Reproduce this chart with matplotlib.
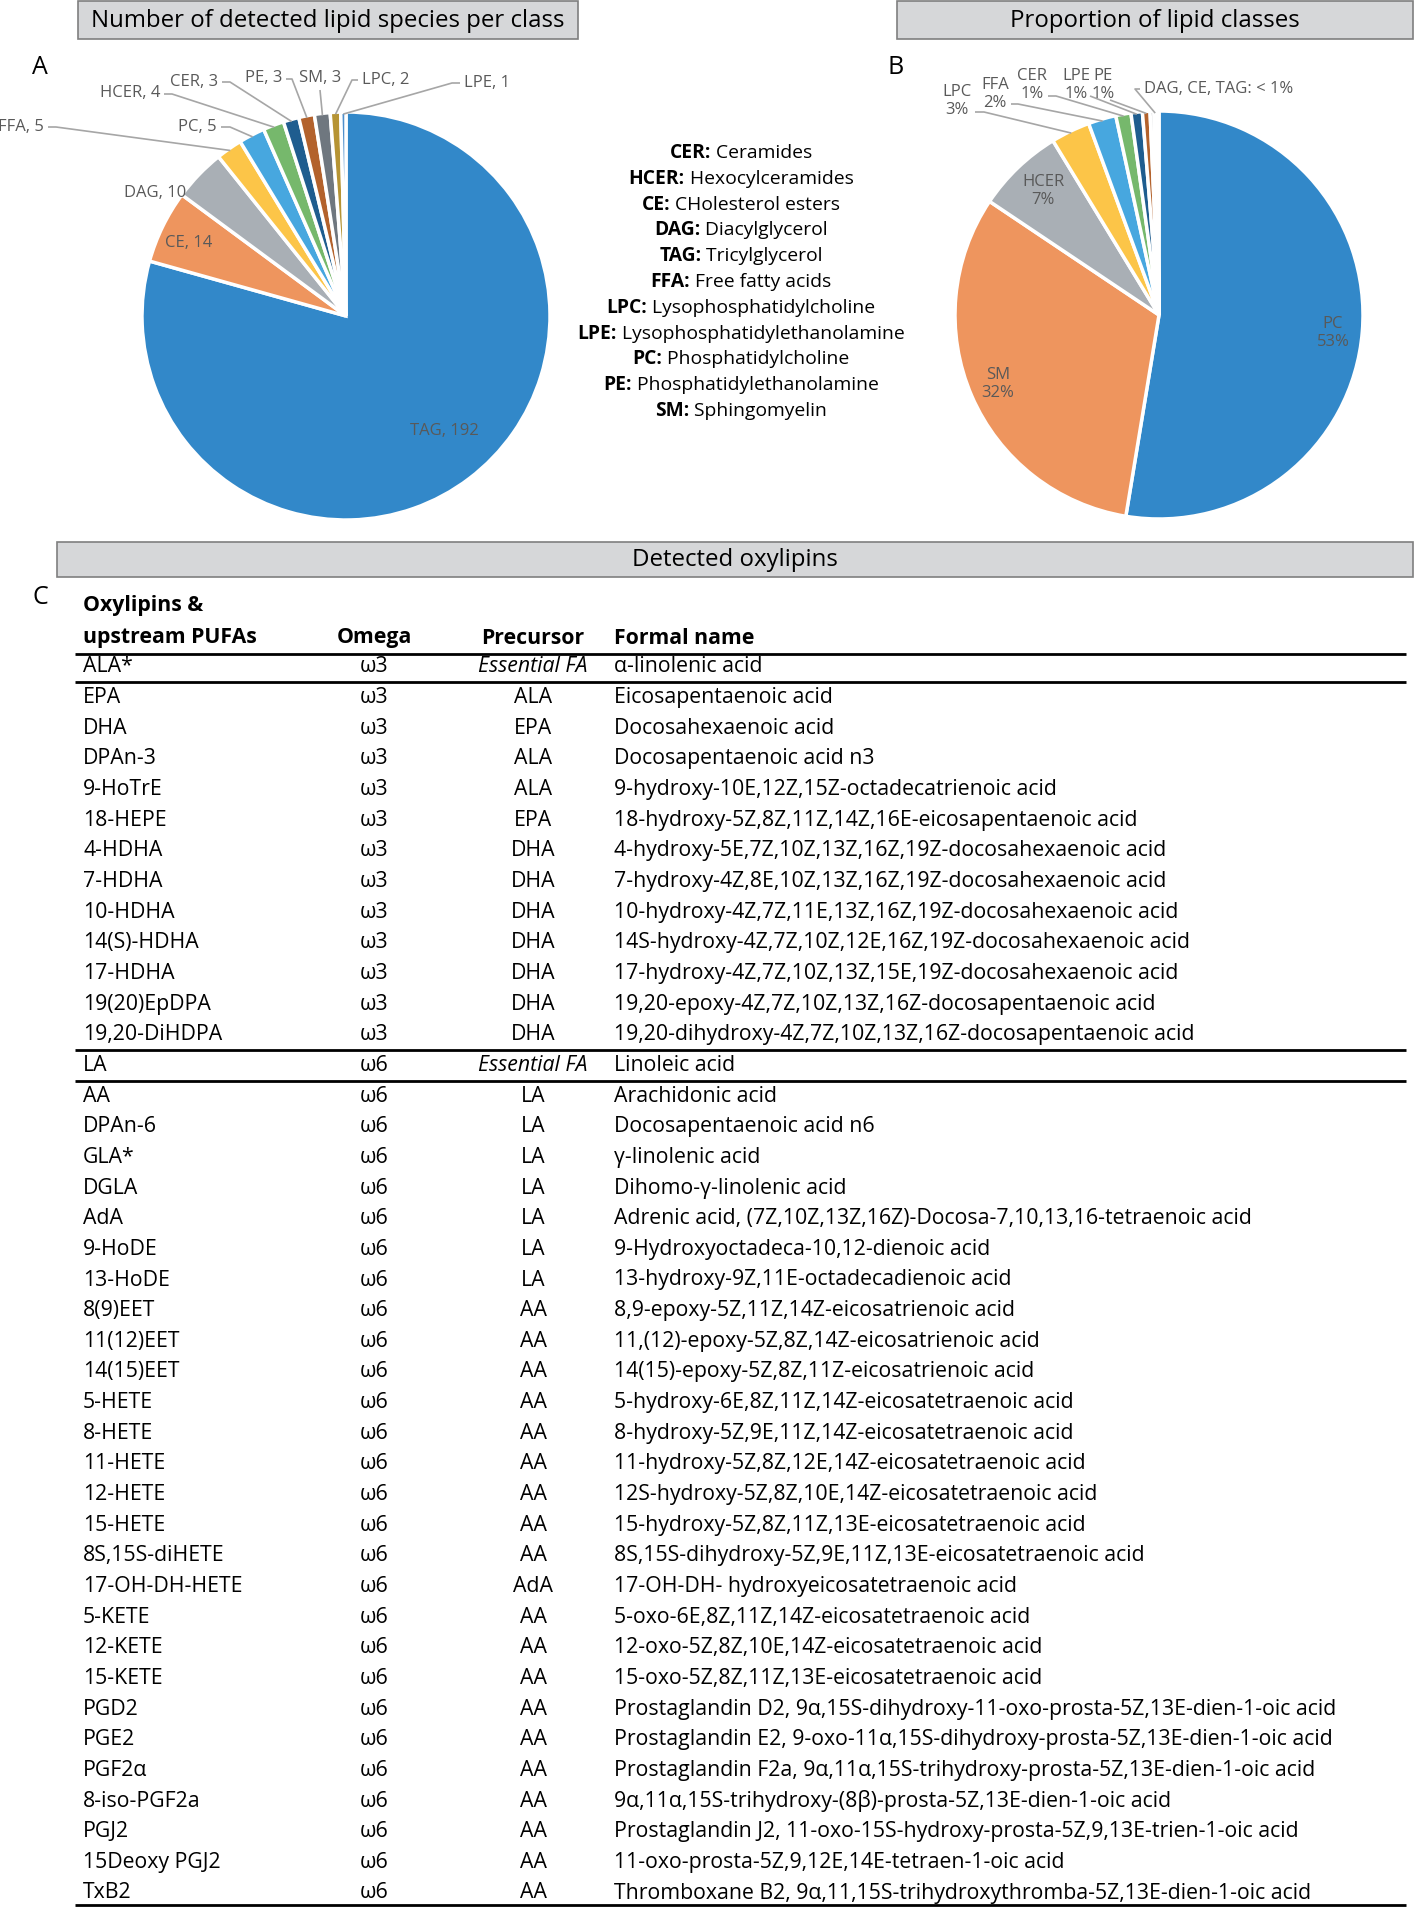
import numpy as np
import matplotlib
matplotlib.use('Agg')
import matplotlib.pyplot as plt
from matplotlib.patches import Rectangle

plt.rcParams['font.family'] = ['Open Sans', 'DejaVu Sans']

W, H = 1417, 1909

# ---------------- data ----------------
a_classes = ['TAG', 'CE', 'DAG', 'FFA', 'PC', 'HCER', 'CER', 'PE', 'SM', 'LPC', 'LPE']
a_counts = [192, 14, 10, 5, 5, 4, 3, 3, 3, 2, 1]

b_classes = ['PC', 'SM', 'HCER', 'LPC', 'FFA', 'CER', 'LPE', 'PE', 'DAG', 'CE', 'TAG']
b_percent = [52.6, 31.8, 6.9, 3.1, 2.2, 1.2, 0.9, 0.6, 0.3, 0.2, 0.2]

legend_abbr = ['CER', 'HCER', 'CE', 'DAG', 'TAG', 'FFA', 'LPC', 'LPE', 'PC', 'PE', 'SM']
legend_desc = ['Ceramides', 'Hexocylceramides', 'CHolesterol esters', 'Diacylglycerol',
               'Tricylglycerol', 'Free fatty acids', 'Lysophosphatidylcholine',
               'Lysophosphatidylethanolamine', 'Phosphatidylcholine',
               'Phosphatidylethanolamine', 'Sphingomyelin']

ox_names = ['ALA*', 'EPA', 'DHA', 'DPAn-3', '9-HoTrE', '18-HEPE', '4-HDHA', '7-HDHA',
            '10-HDHA', '14(S)-HDHA', '17-HDHA', '19(20)EpDPA', '19,20-DiHDPA',
            'LA', 'AA', 'DPAn-6', 'GLA*', 'DGLA', 'AdA', '9-HoDE', '13-HoDE',
            '8(9)EET', '11(12)EET', '14(15)EET', '5-HETE', '8-HETE', '11-HETE',
            '12-HETE', '15-HETE', '8S,15S-diHETE', '17-OH-DH-HETE', '5-KETE',
            '12-KETE', '15-KETE', 'PGD2', 'PGE2', 'PGF2α', '8-iso-PGF2a', 'PGJ2',
            '15Deoxy PGJ2', 'TxB2']
ox_omega = ['ω3'] * 13 + ['ω6'] * 28
ox_precursor = ['Essential FA', 'ALA', 'EPA', 'ALA', 'ALA', 'EPA', 'DHA', 'DHA', 'DHA',
                'DHA', 'DHA', 'DHA', 'DHA',
                'Essential FA', 'LA', 'LA', 'LA', 'LA', 'LA', 'LA', 'LA',
                'AA', 'AA', 'AA', 'AA', 'AA', 'AA', 'AA', 'AA', 'AA', 'AdA', 'AA',
                'AA', 'AA', 'AA', 'AA', 'AA', 'AA', 'AA', 'AA', 'AA']
ox_formal = [
    'α-linolenic acid',
    'Eicosapentaenoic acid',
    'Docosahexaenoic acid',
    'Docosapentaenoic acid n3',
    '9-hydroxy-10E,12Z,15Z-octadecatrienoic acid',
    '18-hydroxy-5Z,8Z,11Z,14Z,16E-eicosapentaenoic acid',
    '4-hydroxy-5E,7Z,10Z,13Z,16Z,19Z-docosahexaenoic acid',
    '7-hydroxy-4Z,8E,10Z,13Z,16Z,19Z-docosahexaenoic acid',
    '10-hydroxy-4Z,7Z,11E,13Z,16Z,19Z-docosahexaenoic acid',
    '14S-hydroxy-4Z,7Z,10Z,12E,16Z,19Z-docosahexaenoic acid',
    '17-hydroxy-4Z,7Z,10Z,13Z,15E,19Z-docosahexaenoic acid',
    '19,20-epoxy-4Z,7Z,10Z,13Z,16Z-docosapentaenoic acid',
    '19,20-dihydroxy-4Z,7Z,10Z,13Z,16Z-docosapentaenoic acid',
    'Linoleic acid',
    'Arachidonic acid',
    'Docosapentaenoic acid n6',
    'γ-linolenic acid',
    'Dihomo-γ-linolenic acid',
    'Adrenic acid, (7Z,10Z,13Z,16Z)-Docosa-7,10,13,16-tetraenoic acid',
    '9-Hydroxyoctadeca-10,12-dienoic acid',
    '13-hydroxy-9Z,11E-octadecadienoic acid',
    '8,9-epoxy-5Z,11Z,14Z-eicosatrienoic acid',
    '11,(12)-epoxy-5Z,8Z,14Z-eicosatrienoic acid',
    '14(15)-epoxy-5Z,8Z,11Z-eicosatrienoic acid',
    '5-hydroxy-6E,8Z,11Z,14Z-eicosatetraenoic acid',
    '8-hydroxy-5Z,9E,11Z,14Z-eicosatetraenoic acid',
    '11-hydroxy-5Z,8Z,12E,14Z-eicosatetraenoic acid',
    '12S-hydroxy-5Z,8Z,10E,14Z-eicosatetraenoic acid',
    '15-hydroxy-5Z,8Z,11Z,13E-eicosatetraenoic acid',
    '8S,15S-dihydroxy-5Z,9E,11Z,13E-eicosatetraenoic acid',
    '17-OH-DH- hydroxyeicosatetraenoic acid',
    '5-oxo-6E,8Z,11Z,14Z-eicosatetraenoic acid',
    '12-oxo-5Z,8Z,10E,14Z-eicosatetraenoic acid',
    '15-oxo-5Z,8Z,11Z,13E-eicosatetraenoic acid',
    'Prostaglandin D2, 9α,15S-dihydroxy-11-oxo-prosta-5Z,13E-dien-1-oic acid',
    'Prostaglandin E2, 9-oxo-11α,15S-dihydroxy-prosta-5Z,13E-dien-1-oic acid',
    'Prostaglandin F2a, 9α,11α,15S-trihydroxy-prosta-5Z,13E-dien-1-oic acid',
    '9α,11α,15S-trihydroxy-(8β)-prosta-5Z,13E-dien-1-oic acid',
    'Prostaglandin J2, 11-oxo-15S-hydroxy-prosta-5Z,9,13E-trien-1-oic acid',
    '11-oxo-prosta-5Z,9,12E,14E-tetraen-1-oic acid',
    'Thromboxane B2, 9α,11,15S-trihydroxythromba-5Z,13E-dien-1-oic acid',
]

# ---------------- style ----------------
palette = ['#3288C9', '#EE955E', '#A9AFB5', '#FCC548', '#47A7DF', '#76B86C',
           '#1F5D8F', '#B3622C', '#6F777F', '#B69434', '#4F8FCB']
lbl_col = '#595959'
lead_col = '#A6A6A6'
box_face = '#D6D7D9'
box_edge = '#7F7F7F'

fig = plt.figure(figsize=(W / 100, H / 100), dpi=100)
ax = fig.add_axes([0, 0, 1, 1])


def title_box(x0, x1, y0, y1, text, size=17.3):
    ax.add_patch(Rectangle((x0, y0), x1 - x0, y1 - y0, facecolor=box_face,
                           edgecolor=box_edge, lw=1.2, zorder=1))
    ax.text((x0 + x1) / 2, (y0 + y1) / 2 + 1, text, ha='center', va='center',
            fontsize=size, color='black', zorder=2)


title_box(78, 578, 1, 39, 'Number of detected lipid species per class')
title_box(897, 1413, 1, 39, 'Proportion of lipid classes')
title_box(57, 1413, 542, 577, 'Detected oxylipins')

ax.text(40, 67, 'A', fontsize=18, ha='center', va='center')
ax.text(896, 67, 'B', fontsize=18, ha='center', va='center')
ax.text(40, 597, 'C', fontsize=18, ha='center', va='center')

# ---------------- pies ----------------
ca, ra = (346, 316), 204
cb, rb = (1159, 315), 204

wa, _ = ax.pie(a_counts, colors=palette, center=ca, radius=ra, startangle=-90,
               counterclock=True, wedgeprops=dict(edgecolor='white', linewidth=2.5))
wb, _ = ax.pie(b_percent, colors=palette, center=cb, radius=rb, startangle=-90,
               counterclock=True, wedgeprops=dict(edgecolor='white', linewidth=2.5))


def edge_pt(w, c, r, f=1.0):
    t = np.deg2rad((w.theta1 + w.theta2) / 2)
    return c[0] + f * r * np.cos(t), c[1] + f * r * np.sin(t)


def leader(w, c, r, pts):
    ex, ey = edge_pt(w, c, r, 0.99)
    xs = [p[0] for p in pts] + [ex]
    ys = [p[1] for p in pts] + [ey]
    ax.plot(xs, ys, color=lead_col, lw=1.2, zorder=3, solid_capstyle='butt')


fs_lab = 12
# Pie A labels
a_idx = {n: i for i, n in enumerate(a_classes)}


def a_text(name, x, y, ha):
    ax.text(x, y, f'{name}, {a_counts[a_idx[name]]}', ha=ha, va='center',
            fontsize=fs_lab, color=lbl_col, zorder=4)


a_text('TAG', 444, 431, 'center')
a_text('CE', 189, 243, 'center')
a_text('DAG', 155, 193, 'center')
a_text('FFA', 44, 127, 'right')
leader(wa[a_idx['FFA']], ca, ra, [(48, 127), (56, 127)])
a_text('PC', 217, 127, 'right')
leader(wa[a_idx['PC']], ca, ra, [(221, 127), (230, 127)])
a_text('HCER', 160, 93, 'right')
leader(wa[a_idx['HCER']], ca, ra, [(164, 94), (172, 94)])
a_text('CER', 218, 82, 'right')
leader(wa[a_idx['CER']], ca, ra, [(222, 82), (230, 82)])
a_text('PE', 282, 78, 'right')
leader(wa[a_idx['PE']], ca, ra, [(286, 79), (292, 79)])
a_text('SM', 320, 78, 'center')
leader(wa[a_idx['SM']], ca, ra, [(320, 90)])
a_text('LPC', 362, 80, 'left')
leader(wa[a_idx['LPC']], ca, ra, [(358, 80), (352, 80)])
a_text('LPE', 464, 83, 'left')
leader(wa[a_idx['LPE']], ca, ra, [(460, 83), (452, 83)])

# Pie B labels
b_idx = {n: i for i, n in enumerate(b_classes)}


def b_text(name, x, y):
    ax.text(x, y, f'{name}\n{b_percent[b_idx[name]]:.0f}%', ha='center', va='center',
            fontsize=fs_lab, color=lbl_col, linespacing=1.15, zorder=4)


b_text('PC', 1333, 333)
b_text('SM', 998, 384)
b_text('HCER', 1043, 191)
b_text('LPC', 957, 101)
leader(wb[b_idx['LPC']], cb, rb, [(975, 112), (984, 112)])
b_text('FFA', 995, 94)
leader(wb[b_idx['FFA']], cb, rb, [(1011, 104), (1018, 104)])
b_text('CER', 1032, 85)
leader(wb[b_idx['CER']], cb, rb, [(1048, 96), (1056, 96)])
b_text('LPE', 1076, 85)
leader(wb[b_idx['LPE']], cb, rb, [(1090, 96)])
b_text('PE', 1103, 85)
leader(wb[b_idx['PE']], cb, rb, [(1110, 100)])
small = b_classes[8:]
ax.text(1144, 89, ', '.join(small) + ': < 1%', ha='left', va='center',
        fontsize=fs_lab, color=lbl_col, zorder=4)
leader(wb[b_idx['CE']], cb, rb, [(1140, 89), (1135, 89)])

# ---------------- legend (middle) ----------------
fig.canvas.draw()
renderer = fig.canvas.get_renderer()
leg_cx, leg_y0, leg_dy = 741, 153, 25.8
fs_leg = 13.9
for i, (ab, de) in enumerate(zip(legend_abbr, legend_desc)):
    y = leg_y0 + i * leg_dy
    t1 = ax.text(0, y, ab + ':', fontsize=fs_leg, fontweight='bold', ha='left', va='center')
    t2 = ax.text(0, y, ' ' + de, fontsize=fs_leg, ha='left', va='center')
    w1 = t1.get_window_extent(renderer).width
    w2 = t2.get_window_extent(renderer).width
    x0 = leg_cx - (w1 + w2) / 2
    t1.set_x(x0)
    t2.set_x(x0 + w1)

# ---------------- table ----------------
fs_tab = 15.3
x_name, x_omega, x_prec, x_form = 83, 374, 533, 614
ax.text(x_name, 606, 'Oxylipins &', fontsize=fs_tab, fontweight='bold', va='center')
ax.text(x_name, 638, 'upstream PUFAs', fontsize=fs_tab, fontweight='bold', va='center')
ax.text(x_omega, 638, 'Omega', fontsize=fs_tab, fontweight='bold', va='center', ha='center')
ax.text(x_prec, 638, 'Precursor', fontsize=fs_tab, fontweight='bold', va='center', ha='center')
ax.text(x_form, 638, 'Formal name', fontsize=fs_tab, fontweight='bold', va='center')

row0, dy = 667, 30.65
for i in range(len(ox_names)):
    y = row0 + i * dy
    ax.text(x_name, y, ox_names[i], fontsize=fs_tab, va='center')
    ax.text(x_omega, y, ox_omega[i], fontsize=fs_tab, va='center', ha='center')
    style = 'italic' if ox_precursor[i] == 'Essential FA' else 'normal'
    ax.text(x_prec, y, ox_precursor[i], fontsize=fs_tab, va='center', ha='center',
            fontstyle=style)
    ax.text(x_form, y, ox_formal[i], fontsize=fs_tab, va='center')

lx0, lx1 = 75, 1406
for yl in [654, row0 + 0.5 * dy, row0 + 12.5 * dy, row0 + 13.5 * dy, 1905]:
    ax.plot([lx0, lx1], [yl, yl], color='black', lw=2.0, solid_capstyle='butt')

ax.set_xlim(0, W)
ax.set_ylim(H, 0)
ax.set_aspect('auto')
ax.axis('off')

fig.savefig('out.png', dpi=100)
